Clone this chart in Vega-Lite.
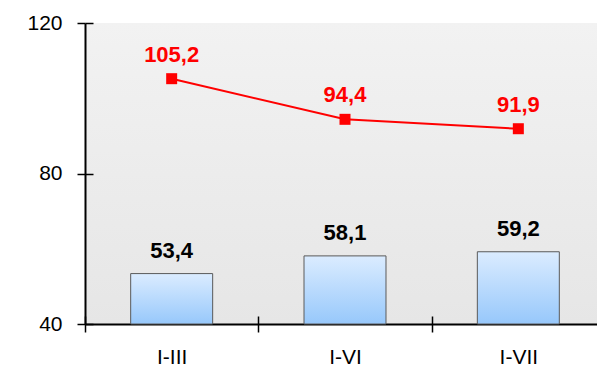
{
  "$schema": "https://vega.github.io/schema/vega-lite/v6.json",
  "width": 520,
  "height": 301,
  "autosize": "none",
  "padding": {"left": 85, "top": 23, "right": 0, "bottom": 49},
  "background": "white",
  "config": {
    "font": "Liberation Sans",
    "locale": {"number": {"decimal": ",", "thousands": " ", "grouping": [3], "currency": ["", ""]}},
    "view": {
      "stroke": null,
      "fill": {"gradient": "linear", "x1": 0, "y1": 0, "x2": 0, "y2": 1, "stops": [{"offset": 0, "color": "#f2f2f2"}, {"offset": 1, "color": "#e6e6e6"}]}
    },
    "axis": {"grid": false, "title": null, "domainColor": "black", "tickColor": "black", "labelColor": "black", "labelFont": "Liberation Sans", "labelFontSize": 21}
  },
  "data": {"values": [
    {"period": "I-III", "bar": 53.4, "line": 105.2},
    {"period": "I-VI", "bar": 58.1, "line": 94.4},
    {"period": "I-VII", "bar": 59.2, "line": 91.9}
  ]},
  "resolve": {"axis": {"x": "independent", "y": "independent"}},
  "layer": [
    {
      "mark": {"type": "bar", "width": {"band": 0.473}, "stroke": "#5a5a5a", "strokeWidth": 1,
        "fill": {"gradient": "linear", "x1": 0, "y1": 0, "x2": 0, "y2": 1, "stops": [{"offset": 0, "color": "#dbecff"}, {"offset": 1, "color": "#97c8fb"}]}},
      "encoding": {
        "x": {"field": "period", "type": "nominal", "sort": null, "scale": {"paddingInner": 0, "paddingOuter": 0},
          "axis": {"labelAngle": 0, "tickBand": "extent", "tickSize": 8, "tickWidth": 1.5, "domainWidth": 2, "labelPadding": 14}},
        "y": {"field": "bar", "type": "quantitative", "scale": {"domain": [40, 120], "nice": false, "zero": false},
          "axis": {"values": [40, 80, 120], "tickSize": 8, "tickWidth": 1.5, "domainWidth": 2, "labelPadding": 15}},
        "y2": {"datum": 40}
      }
    },
    {
      "mark": {"type": "line", "color": "#ff0000", "strokeWidth": 2},
      "encoding": {
        "x": {"field": "period", "type": "nominal", "sort": null,
          "axis": {"orient": "bottom", "labels": false, "domain": false, "tickBand": "extent", "tickSize": -8, "tickWidth": 1.5}},
        "y": {"field": "line", "type": "quantitative",
          "axis": {"orient": "left", "values": [40, 80, 120], "labels": false, "domain": false, "tickSize": -8, "tickWidth": 1.5}}
      }
    },
    {
      "mark": {"type": "point", "shape": "square", "size": 121, "filled": true, "color": "#ff0000", "opacity": 1},
      "encoding": {
        "x": {"field": "period", "type": "nominal", "sort": null, "axis": null},
        "y": {"field": "line", "type": "quantitative", "axis": null}
      }
    },
    {
      "mark": {"type": "text", "color": "#ff0000", "fontWeight": "bold", "fontSize": 22, "baseline": "alphabetic", "dy": -17},
      "encoding": {
        "x": {"field": "period", "type": "nominal", "sort": null, "axis": null},
        "y": {"field": "line", "type": "quantitative", "axis": null},
        "text": {"field": "line", "type": "quantitative", "format": ".1f"}
      }
    },
    {
      "mark": {"type": "text", "color": "black", "fontWeight": "bold", "fontSize": 22, "baseline": "alphabetic", "dy": -16},
      "encoding": {
        "x": {"field": "period", "type": "nominal", "sort": null, "axis": null},
        "y": {"field": "bar", "type": "quantitative", "axis": null},
        "text": {"field": "bar", "type": "quantitative", "format": ".1f"}
      }
    }
  ]
}
